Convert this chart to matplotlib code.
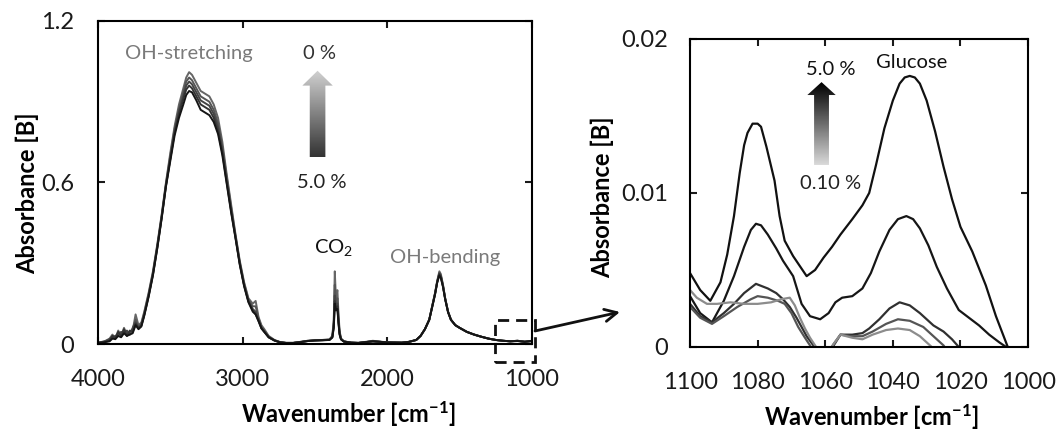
import numpy as np
import matplotlib
matplotlib.use('Agg')
import matplotlib.pyplot as plt
from matplotlib.patches import Polygon, Rectangle

plt.rcParams['font.family'] = ['Lato', 'DejaVu Sans']
plt.rcParams['mathtext.fontset'] = 'custom'
plt.rcParams['mathtext.rm'] = 'Lato'
plt.rcParams['mathtext.bf'] = 'Lato:bold'
plt.rcParams['mathtext.it'] = 'Lato:italic'

# ---- full spectra (left panel), 0 % ... 5.0 % ----
wn_full = [4000, 3960, 3920, 3900, 3880, 3860, 3840, 3820, 3800, 3780,
           3760, 3740, 3720, 3700, 3680, 3650, 3620, 3590, 3560, 3530,
           3500, 3470, 3440, 3410, 3390, 3370, 3350, 3320, 3290, 3260,
           3230, 3200, 3170, 3140, 3110, 3080, 3050, 3020, 2990, 2960,
           2930, 2910, 2890, 2870, 2850, 2820, 2780, 2740, 2700, 2650,
           2600, 2550, 2500, 2450, 2400, 2380, 2370, 2363, 2355, 2345,
           2338, 2330, 2320, 2300, 2250, 2200, 2100, 2000, 1900, 1850,
           1800, 1770, 1740, 1710, 1690, 1670, 1655, 1640, 1630, 1615,
           1600, 1580, 1560, 1530, 1500, 1450, 1400, 1350, 1300, 1250,
           1200, 1150, 1100, 1050, 1000]

abs_0 = [0.005, 0.008, 0.020, 0.035, 0.020, 0.050, 0.030, 0.060, 0.035, 0.045,
         0.050, 0.110, 0.070, 0.080, 0.120, 0.190, 0.270, 0.370, 0.480, 0.600,
         0.710, 0.810, 0.890, 0.950, 0.990, 1.010, 1.000, 0.970, 0.940, 0.930,
         0.920, 0.890, 0.840, 0.750, 0.630, 0.520, 0.410, 0.310, 0.230, 0.170,
         0.150, 0.160, 0.100, 0.070, 0.055, 0.030, 0.015, 0.007, 0.004, 0.004,
         0.008, 0.012, 0.015, 0.015, 0.017, 0.030, 0.090, 0.270, 0.170, 0.200,
         0.120, 0.050, 0.020, 0.010, 0.005, 0.004, 0.012, 0.006, 0.005, 0.008,
         0.015, 0.030, 0.055, 0.090, 0.140, 0.190, 0.235, 0.270, 0.260, 0.220,
         0.170, 0.120, 0.090, 0.070, 0.060, 0.045, 0.035, 0.027, 0.020, 0.015,
         0.012, 0.010, 0.012, 0.008, 0.012]
abs_1 = [0.004, 0.010, 0.015, 0.030, 0.025, 0.040, 0.035, 0.050, 0.040, 0.040,
         0.055, 0.090, 0.065, 0.075, 0.115, 0.185, 0.265, 0.365, 0.475, 0.595,
         0.700, 0.800, 0.875, 0.935, 0.975, 0.990, 0.980, 0.950, 0.920, 0.910,
         0.900, 0.870, 0.820, 0.730, 0.620, 0.510, 0.405, 0.305, 0.225, 0.165,
         0.140, 0.140, 0.095, 0.065, 0.050, 0.028, 0.014, 0.007, 0.004, 0.004,
         0.008, 0.012, 0.014, 0.015, 0.016, 0.028, 0.080, 0.220, 0.150, 0.170,
         0.100, 0.045, 0.020, 0.010, 0.005, 0.004, 0.010, 0.006, 0.005, 0.008,
         0.015, 0.030, 0.055, 0.090, 0.140, 0.188, 0.232, 0.265, 0.255, 0.218,
         0.170, 0.120, 0.090, 0.070, 0.060, 0.045, 0.035, 0.027, 0.020, 0.015,
         0.012, 0.010, 0.011, 0.009, 0.011]
abs_2 = [0.003, 0.006, 0.018, 0.025, 0.030, 0.035, 0.045, 0.040, 0.050, 0.035,
         0.060, 0.080, 0.060, 0.070, 0.110, 0.180, 0.260, 0.360, 0.470, 0.590,
         0.690, 0.790, 0.865, 0.920, 0.960, 0.975, 0.965, 0.935, 0.905, 0.895,
         0.885, 0.855, 0.805, 0.720, 0.610, 0.500, 0.400, 0.300, 0.220, 0.160,
         0.130, 0.120, 0.090, 0.060, 0.045, 0.025, 0.013, 0.006, 0.004, 0.004,
         0.007, 0.011, 0.013, 0.014, 0.016, 0.026, 0.070, 0.180, 0.140, 0.150,
         0.090, 0.040, 0.018, 0.009, 0.005, 0.004, 0.010, 0.006, 0.005, 0.008,
         0.015, 0.030, 0.055, 0.090, 0.138, 0.186, 0.230, 0.262, 0.252, 0.215,
         0.168, 0.120, 0.090, 0.070, 0.060, 0.045, 0.035, 0.027, 0.020, 0.015,
         0.012, 0.010, 0.012, 0.008, 0.010]
abs_3 = [0.004, 0.007, 0.012, 0.030, 0.022, 0.045, 0.028, 0.055, 0.030, 0.050,
         0.045, 0.075, 0.060, 0.068, 0.108, 0.178, 0.258, 0.358, 0.468, 0.588,
         0.688, 0.785, 0.855, 0.910, 0.945, 0.960, 0.950, 0.920, 0.890, 0.880,
         0.870, 0.840, 0.790, 0.710, 0.600, 0.495, 0.398, 0.298, 0.218, 0.158,
         0.125, 0.110, 0.085, 0.058, 0.045, 0.025, 0.013, 0.006, 0.004, 0.004,
         0.007, 0.011, 0.013, 0.014, 0.015, 0.025, 0.065, 0.160, 0.130, 0.140,
         0.085, 0.038, 0.018, 0.009, 0.005, 0.004, 0.010, 0.006, 0.005, 0.008,
         0.015, 0.030, 0.055, 0.090, 0.138, 0.186, 0.230, 0.260, 0.250, 0.214,
         0.168, 0.118, 0.090, 0.070, 0.060, 0.045, 0.035, 0.027, 0.020, 0.015,
         0.012, 0.010, 0.012, 0.009, 0.011]
abs_4 = [0.005, 0.006, 0.010, 0.020, 0.018, 0.030, 0.025, 0.040, 0.030, 0.035,
         0.040, 0.070, 0.055, 0.065, 0.105, 0.175, 0.255, 0.355, 0.465, 0.585,
         0.680, 0.775, 0.840, 0.890, 0.925, 0.940, 0.935, 0.905, 0.870, 0.860,
         0.850, 0.825, 0.780, 0.700, 0.595, 0.490, 0.395, 0.295, 0.215, 0.155,
         0.120, 0.110, 0.085, 0.058, 0.045, 0.025, 0.013, 0.006, 0.004, 0.004,
         0.007, 0.011, 0.013, 0.014, 0.015, 0.024, 0.060, 0.150, 0.125, 0.130,
         0.080, 0.035, 0.017, 0.009, 0.005, 0.004, 0.010, 0.006, 0.005, 0.008,
         0.015, 0.030, 0.055, 0.090, 0.136, 0.184, 0.228, 0.255, 0.245, 0.212,
         0.166, 0.118, 0.090, 0.070, 0.060, 0.045, 0.035, 0.027, 0.020, 0.015,
         0.012, 0.010, 0.011, 0.008, 0.012]
full_spectra = [abs_0, abs_1, abs_2, abs_3, abs_4]
full_colors = ['#666666', '#555555', '#444444', '#333333', '#151515']

# ---- zoomed glucose region (right panel), 5.0 % ... 0.10 % ----
wn_z1 = [1100, 1097, 1094, 1091, 1089, 1087, 1085.3, 1084, 1083, 1081.5,
         1080, 1079, 1077.4, 1075, 1073.5, 1072, 1069.5, 1065.5, 1063, 1060.5,
         1058, 1055.5, 1052, 1049, 1047, 1045, 1042.5, 1040, 1038, 1036.5,
         1035, 1033.5, 1032, 1030, 1027.5, 1025, 1022.5, 1020, 1016.5, 1012.5,
         1009.5, 1006, 1003]
abs_z1 = [0.0048, 0.0037, 0.0030, 0.0042, 0.0060, 0.0085, 0.0113, 0.0131, 0.0139, 0.0145,
          0.0145, 0.0143, 0.0130, 0.0108, 0.0085, 0.0069, 0.0059, 0.0046, 0.0050, 0.0058,
          0.0065, 0.0073, 0.0083, 0.0092, 0.0100, 0.0118, 0.0142, 0.0160, 0.0171, 0.0175,
          0.0176, 0.0175, 0.0171, 0.0160, 0.0140, 0.0117, 0.0096, 0.0078, 0.0062, 0.0040,
          0.0020, 0.0000, -0.0010]

wn_z2 = [1100, 1097, 1093.5, 1090, 1087, 1084, 1082, 1080.5, 1079, 1077,
         1074.5, 1072.5, 1069.5, 1067, 1064.5, 1061.5, 1059, 1057, 1055, 1052,
         1049, 1046.5, 1044, 1041, 1038.5, 1036, 1034, 1032, 1029.5, 1027,
         1024, 1020.5, 1017.5, 1014.5, 1011.5, 1008.5, 1006.5, 1005]
abs_z2 = [0.0033, 0.0022, 0.0016, 0.0030, 0.0046, 0.0065, 0.0076, 0.0080, 0.0079, 0.0073,
          0.0064, 0.0056, 0.0046, 0.0028, 0.0020, 0.0018, 0.0022, 0.0029, 0.0032, 0.0033,
          0.0038, 0.0048, 0.0062, 0.0076, 0.0083, 0.0085, 0.0083, 0.0077, 0.0066, 0.0052,
          0.0038, 0.0024, 0.0019, 0.0014, 0.0008, 0.0003, 0.0000, -0.0005]

wn_z3 = [1100, 1097, 1093.5, 1090, 1087, 1084, 1080.5, 1077, 1074.5, 1072.5,
         1070.5, 1068.5, 1067, 1065.5, 1063.5, 1062, 1059, 1057.5, 1055.5, 1052,
         1049, 1047, 1044, 1041, 1038, 1035, 1032, 1028, 1025, 1022.5,
         1020.5, 1019]
abs_z3 = [0.0028, 0.0020, 0.0016, 0.0022, 0.0028, 0.0035, 0.0041, 0.0038, 0.0035, 0.0031,
          0.0026, 0.0019, 0.0013, 0.0007, 0.0001, -0.0005, -0.0003, 0.0001, 0.0008, 0.0008,
          0.0009, 0.0012, 0.0018, 0.0025, 0.0029, 0.0027, 0.0022, 0.0014, 0.0010, 0.0005,
          0.0000, -0.0004]

wn_z4 = [1100, 1097, 1093.5, 1090, 1086, 1082, 1080, 1077, 1074, 1072,
         1070, 1068, 1066, 1064.5, 1063, 1059, 1057.5, 1055.5, 1052, 1049,
         1046, 1042, 1038.5, 1035, 1031, 1029, 1027, 1025, 1023.5]
abs_z4 = [0.0026, 0.0019, 0.0015, 0.0020, 0.0026, 0.0031, 0.0033, 0.0032, 0.0030, 0.0028,
          0.0022, 0.0013, 0.0006, 0.0001, -0.0004, -0.0003, 0.0002, 0.0008, 0.0007, 0.0007,
          0.0010, 0.0015, 0.0018, 0.0017, 0.0013, 0.0009, 0.0005, 0.0001, -0.0004]

wn_z5 = [1100, 1098, 1095, 1092, 1088, 1084, 1080, 1076, 1073, 1070.5,
         1069, 1067.5, 1066, 1064.5, 1063, 1061.5, 1059, 1057.5, 1055.5, 1052,
         1049, 1046, 1042, 1038.5, 1035, 1032, 1030, 1028.5, 1027]
abs_z5 = [0.0037, 0.0032, 0.0028, 0.0028, 0.0029, 0.0028, 0.0028, 0.0029, 0.0031, 0.0032,
          0.0027, 0.0019, 0.0012, 0.0006, 0.0001, -0.0004, -0.0003, 0.0002, 0.0008, 0.0006,
          0.0005, 0.0008, 0.0011, 0.0012, 0.0011, 0.0007, 0.0003, 0.0000, -0.0004]

zoom_wn = [wn_z1, wn_z2, wn_z3, wn_z4, wn_z5]
zoom_abs = [abs_z1, abs_z2, abs_z3, abs_z4, abs_z5]
zoom_colors = ['#111111', '#161616', '#303030', '#555555', '#8c8c8c']

full_xticks = [4000, 3000, 2000, 1000]
full_yticks = [0, 0.6, 1.2]
full_ylabels = ['0', '0.6', '1.2']
zoom_xticks = [1100, 1080, 1060, 1040, 1020, 1000]
zoom_yticks = [0, 0.01, 0.02]
zoom_ylabels = ['0', '0.01', '0.02']

TICK = 17
LAB = 17
ANN = 14.5


def style_axes(ax, xpad, ypad):
    for s in ax.spines.values():
        s.set_linewidth(1.5)
    ax.tick_params(direction='in', top=True, right=True, length=5, width=1.5,
                   labelsize=TICK, colors='#1a1a1a')
    ax.tick_params(axis='x', pad=xpad)
    ax.tick_params(axis='y', pad=ypad)


def grad_arrow(ax, xc, y0, y1, yh, hw, sw, dark_bottom):
    verts = [(xc - sw, y0), (xc + sw, y0), (xc + sw, yh), (xc + hw, yh),
             (xc, y1), (xc - hw, yh), (xc - sw, yh)]
    poly = Polygon(verts, closed=True, transform=ax.transAxes,
                   facecolor='none', edgecolor='none')
    ax.add_patch(poly)
    if dark_bottom:
        g = np.linspace(0.2, 0.82, 100).reshape(-1, 1)
    else:
        g = np.linspace(0.85, 0.0, 100).reshape(-1, 1)
    im = ax.imshow(g, extent=[xc - hw, xc + hw, y0, y1], transform=ax.transAxes,
                   cmap='gray', vmin=0, vmax=1, aspect='auto', origin='lower',
                   interpolation='bilinear')
    im.set_clip_path(poly)


fig = plt.figure(figsize=(10.58, 4.32), dpi=100)
ax1 = fig.add_axes([0.0926, 0.2037, 0.4102, 0.7477])
ax2 = fig.add_axes([0.6522, 0.1968, 0.3195, 0.713])

# left panel
for spec, col in zip(full_spectra, full_colors):
    ax1.plot(wn_full, spec, color=col, lw=1.4)
grad_arrow(ax1, 0.506, 0.578, 0.846, 0.80, 0.035, 0.018, True)
ax1.set_xlim(4000, 1000)
ax1.set_ylim(0, 1.2)
ax1.set_xticks(full_xticks)
ax1.set_yticks(full_yticks)
ax1.set_yticklabels(full_ylabels)
style_axes(ax1, 18, 17)
ax1.set_xlabel('Wavenumber [cm$^{\\mathbf{-1}}$]', fontsize=LAB, fontweight='bold')
ax1.xaxis.set_label_coords(0.578, -0.170)
ax1.set_ylabel('Absorbance [B]', fontsize=LAB, fontweight='bold')
ax1.yaxis.set_label_coords(-0.136, 0.468)

ax1.text(0.210, 0.898, 'OH-stretching', transform=ax1.transAxes, ha='center',
         va='center', fontsize=ANN, color='#7a7a7a')
ax1.text(0.511, 0.898, '0 %', transform=ax1.transAxes, ha='center',
         va='center', fontsize=ANN, color='#333333')
ax1.text(0.516, 0.500, '5.0 %', transform=ax1.transAxes, ha='center',
         va='center', fontsize=ANN, color='#222222')
ax1.text(0.543, 0.300, 'CO$_2$', transform=ax1.transAxes, ha='center',
         va='center', fontsize=ANN, color='#111111')
ax1.text(0.800, 0.268, 'OH-bending', transform=ax1.transAxes, ha='center',
         va='center', fontsize=ANN, color='#7a7a7a')

ax1.add_patch(Rectangle((0.915, -0.056), 0.092, 0.130, transform=ax1.transAxes,
                        fill=False, lw=2, ls=(0, (4, 2.5)), color='#111111',
                        clip_on=False))
ax1.annotate('', xy=(620 / 1058, 1 - 312 / 432), xycoords='figure fraction',
             xytext=(535 / 1058, 1 - 331 / 432), textcoords='figure fraction',
             arrowprops=dict(arrowstyle='->', lw=2, color='#111111',
                             mutation_scale=22, shrinkA=0, shrinkB=0))

# right panel
for w, a, col in zip(zoom_wn, zoom_abs, zoom_colors):
    ax2.plot(w, a, color=col, lw=1.6)
grad_arrow(ax2, 0.389, 0.591, 0.860, 0.818, 0.042, 0.022, False)
ax2.set_xlim(1100, 1000)
ax2.set_ylim(0, 0.02)
ax2.set_xticks(zoom_xticks)
ax2.set_yticks(zoom_yticks)
ax2.set_yticklabels(zoom_ylabels)
style_axes(ax2, 18, 16)
ax2.set_xlabel('Wavenumber [cm$^{\\mathbf{-1}}$]', fontsize=LAB, fontweight='bold')
ax2.xaxis.set_label_coords(0.537, -0.179)
ax2.set_ylabel('Absorbance [B]', fontsize=LAB, fontweight='bold')
ax2.yaxis.set_label_coords(-0.224, 0.487)

ax2.text(0.655, 0.922, 'Glucose', transform=ax2.transAxes, ha='center',
         va='center', fontsize=ANN, color='#111111')
ax2.text(0.416, 0.900, '5.0 %', transform=ax2.transAxes, ha='center',
         va='center', fontsize=ANN, color='#111111')
ax2.text(0.416, 0.532, '0.10 %', transform=ax2.transAxes, ha='center',
         va='center', fontsize=ANN, color='#222222')

fig.savefig('out.png', dpi=100)
